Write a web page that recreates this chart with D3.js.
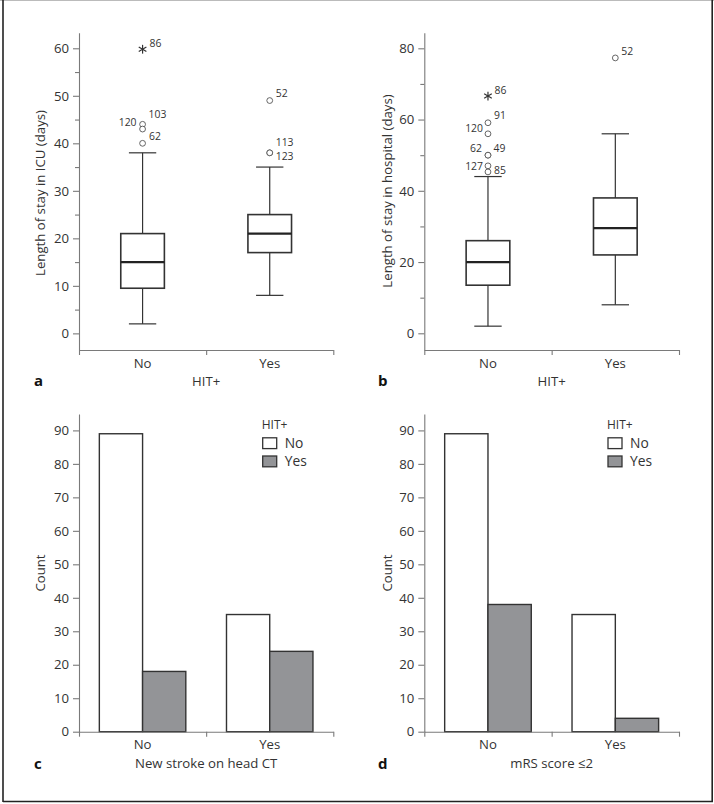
<!DOCTYPE html>
<html>
<head>
<meta charset="utf-8">
<script src="https://cdn.jsdelivr.net/npm/d3@7"></script>
<style>
  html, body { margin: 0; padding: 0; background: #fff; }
  svg { display: block; font-family: "Open Sans", "Noto Sans", sans-serif; }
</style>
</head>
<body>
<svg id="chart" width="714" height="804"></svg>
<script>
// ---------------- DATA ----------------
const groups = ["No", "Yes"];

// Panel a: length of stay in ICU (days)
const icuWhiskerLow  = [2, 8];
const icuQ1          = [9.5, 17];
const icuMedian      = [15, 21];
const icuQ3          = [21, 25];
const icuWhiskerHigh = [38, 35];
const icuOutlierGroup = ["No", "No", "No", "No", "Yes", "Yes", "Yes"];
const icuOutlierValue = [59.8, 44, 43, 40, 49, 38, 38];
const icuOutlierId    = ["86", "103", "120", "62", "52", "113", "123"];
const icuOutlierShape = ["star", "circle", "circle", "circle", "circle", "circle", "circle"];
const icuTicks = [0, 10, 20, 30, 40, 50, 60];

// Panel b: length of stay in hospital (days)
const hospWhiskerLow  = [2, 8];
const hospQ1          = [13.5, 22];
const hospMedian      = [20, 29.5];
const hospQ3          = [26, 38];
const hospWhiskerHigh = [44, 56];
const hospOutlierGroup = ["No", "No", "No", "No", "No", "No", "No", "Yes"];
const hospOutlierValue = [66.6, 59.1, 56, 50, 50, 47, 45.3, 77.3];
const hospOutlierId    = ["86", "91", "120", "62", "49", "127", "85", "52"];
const hospOutlierShape = ["star", "circle", "circle", "circle", "circle", "circle", "circle", "circle"];
const hospTicks = [0, 20, 40, 60, 80];

// Panel c: new stroke on head CT (counts), series = HIT+ No / Yes
const strokeHitNo  = [89, 35];
const strokeHitYes = [18, 24];

// Panel d: mRS score <= 2 (counts)
const mrsHitNo  = [89, 35];
const mrsHitYes = [38, 4];
const countTicks = [0, 10, 20, 30, 40, 50, 60, 70, 80, 90];

const legendLabels = ["No", "Yes"];

// ---------------- STYLE / LAYOUT ----------------
const TEXT = "#333";
const AXIS = "#7a7a7a";
const BOX = "#333";
const GRAY_FILL = "#939497";
const FS = 13.2;

// outlier label placement (dx, dy from point; anchor)
const labelPlacementA = {
  "86": [7, -2, "start"], "103": [6, -6, "start"], "120": [-6, -3, "end"],
  "62": [6.5, -3, "start"], "52": [6, -4, "start"], "113": [6, -7, "start"],
  "123": [6, 7.2, "start"]
};
const labelPlacementB = {
  "86": [6.5, -2, "start"], "91": [6, -4, "start"], "120": [-5, -2, "end"],
  "62": [-6, -3, "end"], "49": [5.5, -3.5, "start"], "127": [-5, 4, "end"],
  "85": [6, 2, "start"], "52": [6, -3, "start"]
};

const svg = d3.select("#chart");

// frame
svg.append("line").attr("x1", 0).attr("x2", 714).attr("y1", 0.5).attr("y2", 0.5)
  .attr("stroke", "#bbb").attr("stroke-width", 1);
svg.append("line").attr("x1", 3).attr("x2", 3).attr("y1", 0).attr("y2", 802)
  .attr("stroke", "#222").attr("stroke-width", 1.6);
svg.append("line").attr("x1", 712.2).attr("x2", 712.2).attr("y1", 0).attr("y2", 802)
  .attr("stroke", "#222").attr("stroke-width", 1.6);
svg.append("line").attr("x1", 3).attr("x2", 713).attr("y1", 801.5).attr("y2", 801.5)
  .attr("stroke", "#222").attr("stroke-width", 1.6);

function styleAxis(g) {
  g.selectAll("path.domain").attr("stroke", AXIS).attr("stroke-width", 1.1);
  g.selectAll(".tick line").attr("stroke", AXIS).attr("stroke-width", 1.1);
  g.selectAll(".tick text").attr("fill", TEXT).attr("font-size", FS)
    .attr("font-family", "'Open Sans', sans-serif");
}

function drawFrameAxes(p) {
  const g = p.g;
  const yAx = g.append("g").attr("transform", `translate(${p.x0},0)`)
    .call(d3.axisLeft(p.y).tickValues(p.major).tickSize(6).tickSizeOuter(0).tickPadding(4));
  styleAxis(yAx);
  if (p.minor) {
    const yMin = g.append("g").attr("transform", `translate(${p.x0},0)`)
      .call(d3.axisLeft(p.y).tickValues(p.minor).tickSize(4).tickSizeOuter(0).tickFormat(""));
    yMin.select("path.domain").remove();
    styleAxis(yMin);
  }
  const xt = d3.scaleLinear().domain([0, 2]).range([p.x0, p.x1]);
  const xAx = g.append("g").attr("transform", `translate(0,${p.xAxisY})`)
    .call(d3.axisBottom(xt).tickValues([0, 1, 2]).tickSize(5).tickSizeOuter(0).tickFormat(""));
  styleAxis(xAx);
  groups.forEach(gr => {
    g.append("text").attr("x", p.xc(gr)).attr("y", p.xAxisY + 17.5)
      .attr("text-anchor", "middle").attr("fill", TEXT).attr("font-size", FS).text(gr);
  });
  g.append("text").attr("x", (p.x0 + p.x1) / 2).attr("y", p.xAxisY + (p.titleOffset || 35.5))
    .attr("text-anchor", "middle").attr("fill", TEXT).attr("font-size", FS).text(p.xTitle);
  g.append("text")
    .attr("transform", `translate(${p.yTitleX},${p.yTitleY}) rotate(-90)`)
    .attr("text-anchor", "middle").attr("fill", TEXT).attr("font-size", FS).text(p.yTitle);
  g.append("text").attr("x", p.letterX).attr("y", p.letterY)
    .attr("fill", "#111").attr("font-size", 15).attr("font-weight", "bold").text(p.letter);
}

function drawBoxPanel(p) {
  p.g = svg.append("g");
  p.y = d3.scaleLinear().domain(p.domain).range([p.yBottom, p.yTop]);
  const xb = d3.scaleBand().domain(groups).range([p.x0, p.x1]);
  p.xc = gr => xb(gr) + xb.bandwidth() / 2;
  p.xAxisY = p.yBottom;
  drawFrameAxes(p);
  const g = p.g, y = p.y;
  const bw = xb.bandwidth() * 0.343, cw = xb.bandwidth() * 0.215;
  groups.forEach((gr, i) => {
    const cx = p.xc(gr);
    g.append("line").attr("x1", cx).attr("x2", cx).attr("y1", y(p.lo[i])).attr("y2", y(p.q1[i]))
      .attr("stroke", BOX).attr("stroke-width", 1.2);
    g.append("line").attr("x1", cx).attr("x2", cx).attr("y1", y(p.q3[i])).attr("y2", y(p.hi[i]))
      .attr("stroke", BOX).attr("stroke-width", 1.2);
    [p.lo[i], p.hi[i]].forEach(v => {
      g.append("line").attr("x1", cx - cw / 2).attr("x2", cx + cw / 2).attr("y1", y(v)).attr("y2", y(v))
        .attr("stroke", BOX).attr("stroke-width", 1.2);
    });
    g.append("rect").attr("x", cx - bw / 2).attr("y", y(p.q3[i]))
      .attr("width", bw).attr("height", y(p.q1[i]) - y(p.q3[i]))
      .attr("fill", "none").attr("stroke", BOX).attr("stroke-width", 1.6);
    g.append("line").attr("x1", cx - bw / 2).attr("x2", cx + bw / 2)
      .attr("y1", y(p.med[i])).attr("y2", y(p.med[i]))
      .attr("stroke", "#222").attr("stroke-width", 2.2);
  });
  p.oGroup.forEach((gr, k) => {
    const cx = p.xc(gr), cy = y(p.oValue[k]);
    if (p.oShape[k] === "star") {
      const r = 4.4;
      [90, 30, -30].forEach(a => {
        const rad = a * Math.PI / 180;
        g.append("line").attr("x1", cx - r * Math.cos(rad)).attr("y1", cy - r * Math.sin(rad))
          .attr("x2", cx + r * Math.cos(rad)).attr("y2", cy + r * Math.sin(rad))
          .attr("stroke", "#333").attr("stroke-width", 1.2);
      });
    } else {
      g.append("circle").attr("cx", cx).attr("cy", cy).attr("r", 2.9)
        .attr("fill", "#fff").attr("stroke", "#555").attr("stroke-width", 0.9);
    }
    const pl = p.place[p.oId[k]];
    g.append("text").attr("x", cx + pl[0]).attr("y", cy + pl[1])
      .attr("text-anchor", pl[2]).attr("fill", TEXT).attr("font-size", 10.4).text(p.oId[k]);
  });
}

function drawBarPanel(p) {
  p.g = svg.append("g");
  p.y = d3.scaleLinear().domain(p.domain).range([p.yBottom, p.yTop]);
  const x0 = d3.scaleBand().domain(groups).range([p.x0, p.x1]).paddingInner(0.32).paddingOuter(0.16);
  const x1 = d3.scaleBand().domain(legendLabels).range([0, x0.bandwidth()]);
  p.xc = gr => x0(gr) + x0.bandwidth() / 2;
  p.xAxisY = p.y(0);
  p.titleOffset = 36.5;
  const g = p.g, y = p.y;
  const series = [p.no, p.yes];
  const fills = ["#fff", GRAY_FILL];
  groups.forEach((gr, i) => {
    legendLabels.forEach((s, j) => {
      g.append("rect").attr("x", x0(gr) + x1(s)).attr("y", y(series[j][i]))
        .attr("width", x1.bandwidth()).attr("height", y(0) - y(series[j][i]))
        .attr("fill", fills[j]).attr("stroke", "#333").attr("stroke-width", 1.4);
    });
  });
  drawFrameAxes(p);
  const lx = p.x0 + 182.7;
  g.append("text").attr("x", lx).attr("y", 428.5).attr("fill", TEXT).attr("font-size", 12).text("HIT+");
  legendLabels.forEach((s, j) => {
    g.append("rect").attr("x", lx + 1).attr("y", 437.8 + j * 18.2).attr("width", 14).attr("height", 10.8)
      .attr("fill", fills[j]).attr("stroke", "#333").attr("stroke-width", 1.3);
    g.append("text").attr("x", lx + 23).attr("y", 448 + j * 18.2)
      .attr("fill", TEXT).attr("font-size", 13.8).text(s);
  });
}

drawBoxPanel({
  x0: 79, x1: 333.3, yTop: 32.7, yBottom: 350, domain: [-3.5, 63.28],
  major: icuTicks, minor: d3.range(5, 60, 10),
  lo: icuWhiskerLow, q1: icuQ1, med: icuMedian, q3: icuQ3, hi: icuWhiskerHigh,
  oGroup: icuOutlierGroup, oValue: icuOutlierValue, oId: icuOutlierId, oShape: icuOutlierShape,
  place: labelPlacementA,
  xTitle: "HIT+", yTitle: "Length of stay in ICU (days)", yTitleX: 45, yTitleY: 193,
  letter: "a", letterX: 34, letterY: 386
});

drawBoxPanel({
  x0: 424.3, x1: 679, yTop: 32.7, yBottom: 350, domain: [-4.69, 84.38],
  major: hospTicks, minor: d3.range(10, 80, 20),
  lo: hospWhiskerLow, q1: hospQ1, med: hospMedian, q3: hospQ3, hi: hospWhiskerHigh,
  oGroup: hospOutlierGroup, oValue: hospOutlierValue, oId: hospOutlierId, oShape: hospOutlierShape,
  place: labelPlacementB,
  xTitle: "HIT+", yTitle: "Length of stay in hospital (days)", yTitleX: 392, yTitleY: 191,
  letter: "b", letterX: 378, letterY: 386
});

drawBarPanel({
  x0: 79, x1: 333.3, yTop: 414, yBottom: 731.7, domain: [0, 94.9],
  major: countTicks, minor: null, no: strokeHitNo, yes: strokeHitYes,
  xTitle: "New stroke on head CT", yTitle: "Count", yTitleX: 45, yTitleY: 573,
  letter: "c", letterX: 34, letterY: 769
});

drawBarPanel({
  x0: 424.3, x1: 679, yTop: 414, yBottom: 731.7, domain: [0, 94.9],
  major: countTicks, minor: null, no: mrsHitNo, yes: mrsHitYes,
  xTitle: "mRS score \u22642", yTitle: "Count", yTitleX: 392, yTitleY: 573,
  letter: "d", letterX: 378, letterY: 769
});
</script>
</body>
</html>
